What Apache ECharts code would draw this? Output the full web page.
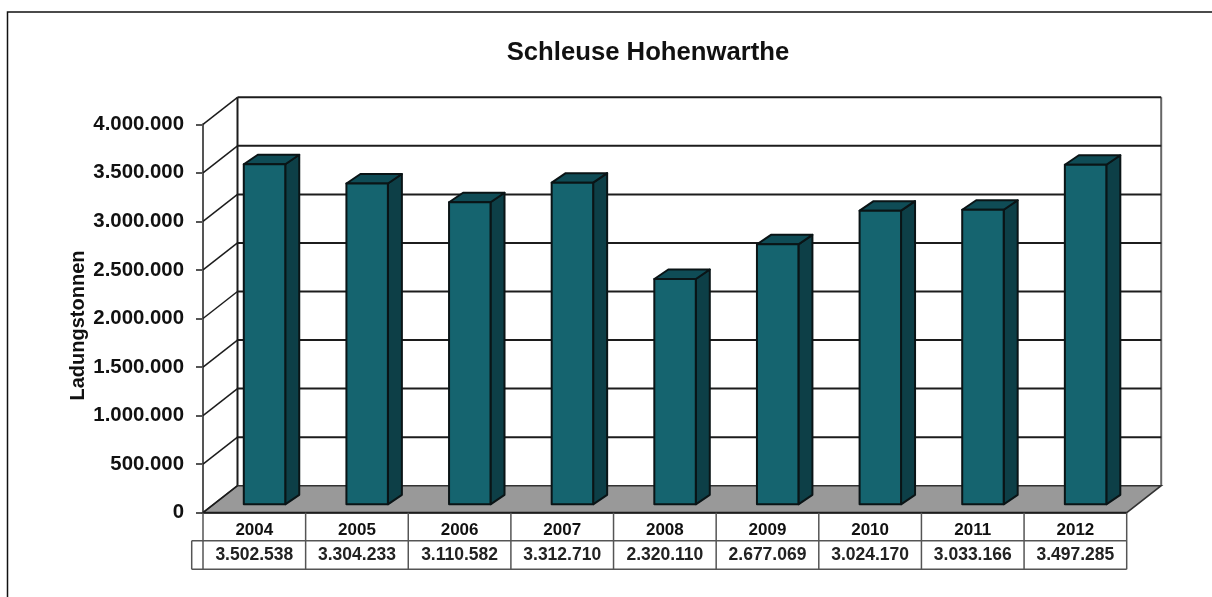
<!DOCTYPE html>
<html><head><meta charset="utf-8">
<style>html,body{margin:0;padding:0;background:#fff}#c{width:1212px;height:597px}</style>
<script src="https://cdn.jsdelivr.net/npm/echarts@6/dist/echarts.min.js"></script>
</head><body><div id="c"></div>
<script>
const years = ['2004','2005','2006','2007','2008','2009','2010','2011','2012'];
const tonnes = [3502538,3304233,3110582,3312710,2320110,2677069,3024170,3033166,3497285];
const yTicks = [0,500000,1000000,1500000,2000000,2500000,3000000,3500000,4000000];
const fmt = v => String(v).replace(/\B(?=(\d{3})+$)/g,'.');
const FONT = '"Liberation Sans", Arial, sans-serif';
const DX = 34.5, DY = -27;         // chart depth
const BAR_DX = 14, BAR_DY = -9.5;  // bar depth
const BAR_OFF_X = 10.2, BAR_OFF_Y = -8.4; // bar position inside the depth
const ROW1 = 28, ROW2 = 28.6;
const LINE = '#1c1c1c', GRAY = '#555';
const line = (x1,y1,x2,y2,stroke,w) => ({type:'line',shape:{x1,y1,x2,y2},style:{stroke,lineWidth:w,fill:null}});
const poly = (points,fill) => ({type:'polygon',shape:{points},style:{fill,stroke:'#0a1416',lineWidth:2,lineJoin:'round'}});

const chart = echarts.init(document.getElementById('c'),null,{renderer:'canvas'});
chart.setOption({
  animation:false,
  backgroundColor:'#fff',
  title:{text:'Schleuse Hohenwarthe',left:643,top:35,textAlign:'center',
    textStyle:{fontFamily:FONT,fontWeight:'bold',fontSize:25.7,color:'#111'}},
  grid:{left:203,right:85.3,top:124.3,bottom:84.3,containLabel:false},
  xAxis:{type:'category',data:years,
    axisLine:{show:false},axisTick:{show:false},splitLine:{show:false},
    axisLabel:{margin:9,fontFamily:FONT,fontWeight:'bold',fontSize:17,color:'#111'}},
  yAxis:{type:'value',min:0,max:4000000,interval:500000,
    name:'Ladungstonnen',nameLocation:'middle',nameRotate:90,nameGap:115,nameMoveOverlap:false,
    nameTextStyle:{fontFamily:FONT,fontWeight:'bold',fontSize:20,color:'#111',padding:[0,0,0,-14]},
    axisLine:{show:true,lineStyle:{color:GRAY,width:2}},
    axisTick:{show:true,length:7,lineStyle:{color:GRAY,width:2}},
    splitLine:{show:false},
    axisLabel:{margin:19,fontFamily:FONT,fontWeight:'bold',fontSize:20.4,color:'#111',formatter:v=>fmt(v)}},
  series:[
    {type:'custom',z:1,data:[0],silent:true,encode:{y:0},
     renderItem(p,api){
       const s=p.coordSys,x0=s.x,x1=s.x+s.width,b=s.y+s.height;
       return {type:'group',children:[
         line(x0+DX,s.y+DY,x0+DX,b+DY,LINE,2),
         line(x1+DX,s.y+DY,x1+DX,b+DY,'#666',2),
         {type:'polygon',shape:{points:[[x0,b],[x0+DX,b+DY],[x1+DX,b+DY],[x1,b]]},
          style:{fill:'#999999',stroke:'#333',lineWidth:1.5}},
         line(x0,b,x1,b,LINE,2)
       ]};
     }},
    {type:'custom',z:1,data:yTicks.map(v=>[v]),silent:true,encode:{y:0},
     renderItem(p,api){
       const s=p.coordSys,y=api.coord([0,api.value(0)])[1];
       const kids=[line(s.x,y,s.x+DX,y+DY,LINE,1.5)];
       if(api.value(0)>0) kids.push(line(s.x+DX,y+DY,s.x+s.width+DX,y+DY,LINE,2));
       return {type:'group',children:kids};
     }},
    {type:'custom',z:3,data:tonnes.map((v,i)=>[i,v]),silent:true,encode:{x:0,y:1},
     renderItem(p,api){
       const i=api.value(0),v=api.value(1);
       const top=api.coord([i,v]),base=api.coord([i,0]),bw=api.size([1,0])[0]*0.404;
       const l=top[0]-bw/2+BAR_OFF_X,r=l+bw,t=top[1]+BAR_OFF_Y,bt=base[1]+BAR_OFF_Y;
       return {type:'group',children:[
         poly([[r,t],[r+BAR_DX,t+BAR_DY],[r+BAR_DX,bt+BAR_DY],[r,bt]],'#0d3f47'),
         poly([[l,t],[l+BAR_DX,t+BAR_DY],[r+BAR_DX,t+BAR_DY],[r,t]],'#0f4c56'),
         poly([[l,t],[r,t],[r,bt],[l,bt]],'#15646f')
       ]};
     }},
    {type:'custom',z:2,data:years.map((y,i)=>[i,tonnes[i]]),silent:true,encode:{x:0},
     renderItem(p,api){
       const i=api.value(0),v=api.value(1),s=p.coordSys,b=s.y+s.height;
       const bw=api.size([1,0])[0],cx=api.coord([i,0])[0],r=cx+bw/2,y1=b+ROW1,y2=y1+ROW2;
       const kids=[
         line(r,b,r,y2,GRAY,1.5),
         {type:'text',style:{text:fmt(v),x:cx,y:y1+ROW2/2,align:'center',verticalAlign:'middle',
           fontFamily:FONT,fontWeight:'bold',fontSize:17.5,fill:'#222'}}
       ];
       if(i===0) kids.push(line(s.x,b,s.x,y2,GRAY,1.5),
         line(s.x-11.3,y1,s.x+s.width,y1,GRAY,1.5),
         line(s.x-11.3,y2,s.x+s.width,y2,GRAY,1.5),
         line(s.x-11.3,y1,s.x-11.3,y2,GRAY,1.5));
       return {type:'group',children:kids};
     }}
  ],
  graphic:[{type:'polyline',silent:true,shape:{points:[[7.5,597],[7.5,12],[1212,12]]},
    style:{stroke:'#111',lineWidth:1.5,fill:null}}]
});
</script></body></html>
